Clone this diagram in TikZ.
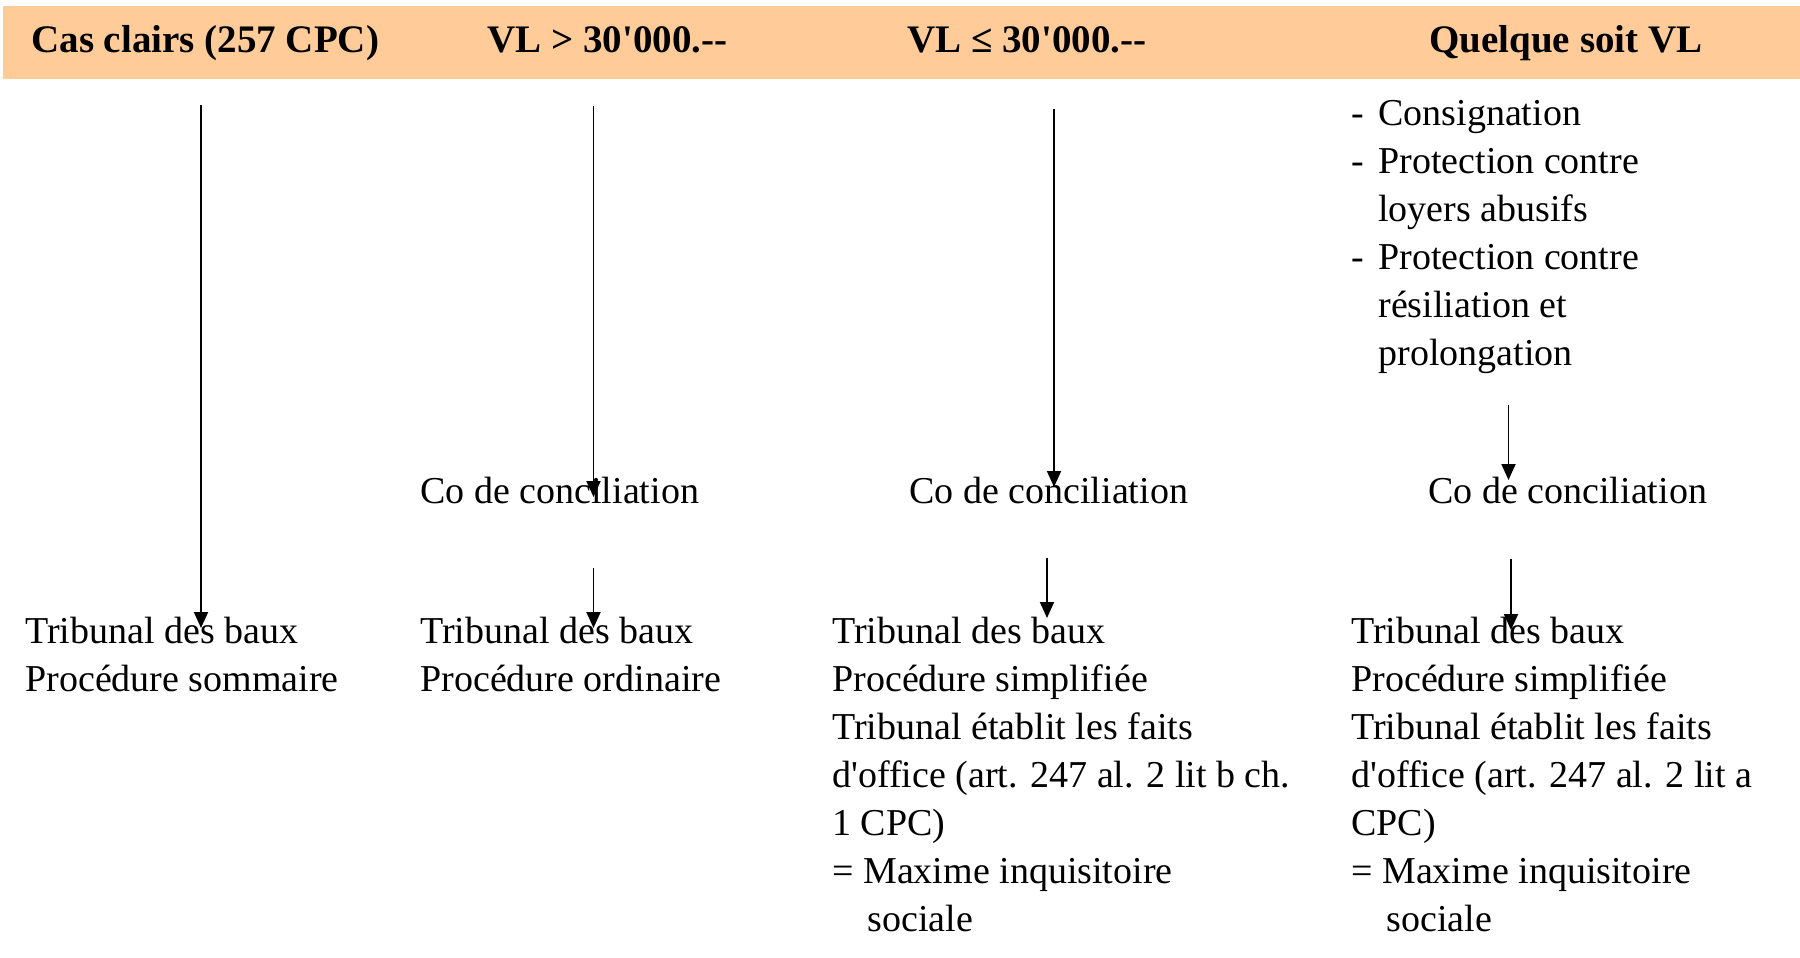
\documentclass[tikz,border=0pt]{standalone}
\usepackage{fontspec}
\setmainfont{Liberation Serif}[Ligatures=TeXOff]
\usetikzlibrary{arrows.meta}
\definecolor{bandorange}{RGB}{255,204,153}
\tikzset{
  px/.style={x=0.5pt,y=-0.5pt},
  head/.style={anchor=base west,inner sep=0pt,font=\fontsize{19.5}{24}\selectfont\bfseries},
  body/.style={anchor=base west,inner sep=0pt,align=left,font=\fontsize{19}{24}\selectfont},
  blk/.style={anchor=north west,inner sep=0pt,align=left,font=\fontsize{19}{24}\selectfont},
  flow/.style={line width=0.95pt,-{Triangle[length=8pt,width=7pt]}}
}
\newcommand{\dashitem}{\makebox[13.5pt][l]{-}}
\begin{document}
\begin{tikzpicture}[px]
\useasboundingbox (0,0) rectangle (1800,958);
\fill[bandorange] (3,6) rectangle (1800,79);
% headers
\node[head] (h1) at (31,53) {Cas clairs (257 CPC)};
\node[head] (h2) at (487,53) {VL > 30'000.--};
\node[head] (h3) at (907,53) {VL ≤ 30'000.--};
\node[head] (h4) at (1429,53) {Quelque soit VL};
% list column 4 (first baseline at 125)
\node[blk] (list) at (1351,91.4) {\strut\dashitem Consignation\\\dashitem Protection contre\\\hspace*{13.5pt}loyers abusifs\\\dashitem Protection contre\\\hspace*{13.5pt}résiliation et\\\hspace*{13.5pt}prolongation};
% conciliation
\node[body] (co2) at (420,503) {Co de conciliation};
\node[body] (co3) at (909,503) {Co de conciliation};
\node[body] (co4) at (1428,503) {Co de conciliation};
% tribunals (first baseline at 643)
\node[blk] (t1) at (25,609.4) {\strut Tribunal des baux\\Procédure sommaire};
\node[blk] (t2) at (420,609.4) {\strut Tribunal des baux\\Procédure ordinaire};
\node[blk] (t3) at (832,609.4) {\strut Tribunal des baux\\Procédure simplifiée\\Tribunal établit les faits\\d'office (art. 247 al. 2 lit b ch.\\1 CPC)\\= Maxime inquisitoire\\\hspace*{17.5pt}sociale};
\node[blk] (t4) at (1351,609.4) {\strut Tribunal des baux\\Procédure simplifiée\\Tribunal établit les faits\\d'office (art. 247 al. 2 lit a\\CPC)\\= Maxime inquisitoire\\\hspace*{17.5pt}sociale};
% arrow endpoints
\coordinate (a1s) at (201,105);   \coordinate (a1e) at (201,628);
\coordinate (a2s) at (593.5,106); \coordinate (a2e) at (593.5,497);
\coordinate (a3s) at (593.5,568); \coordinate (a3e) at (593.5,628);
\coordinate (a4s) at (1054,109);  \coordinate (a4e) at (1054,487);
\coordinate (a5s) at (1047,558);  \coordinate (a5e) at (1047,618);
\coordinate (a6s) at (1508.5,405);\coordinate (a6e) at (1508.5,480);
\coordinate (a7s) at (1511,559);  \coordinate (a7e) at (1511,630);
\draw[flow] (a1s) -- (a1e);
\draw[flow] (a2s) -- (a2e);
\draw[flow] (a3s) -- (a3e);
\draw[flow] (a4s) -- (a4e);
\draw[flow] (a5s) -- (a5e);
\draw[flow] (a6s) -- (a6e);
\draw[flow] (a7s) -- (a7e);
\end{tikzpicture}
\end{document}
